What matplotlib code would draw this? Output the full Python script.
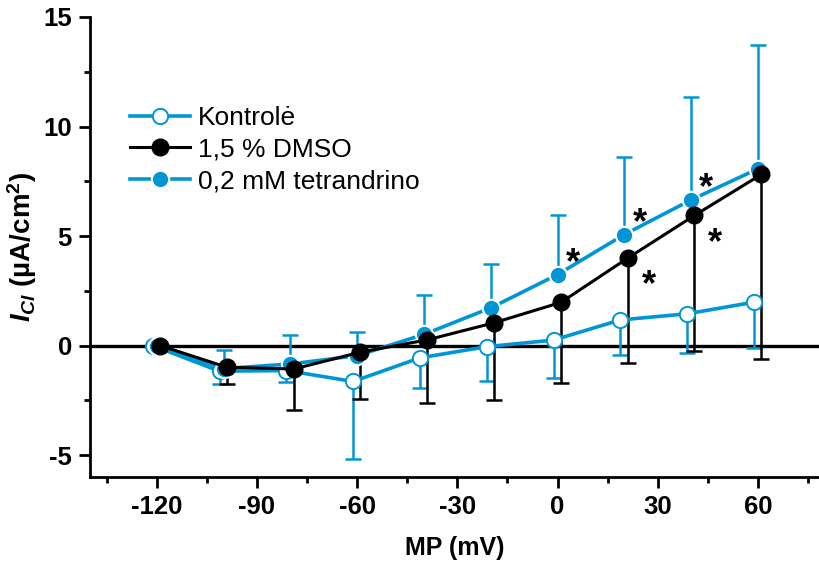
import numpy as np
import matplotlib
matplotlib.use("Agg")
import matplotlib.pyplot as plt
from matplotlib.ticker import MultipleLocator

plt.rcParams['font.family'] = ['Liberation Sans', 'DejaVu Sans']
plt.rcParams['mathtext.fontset'] = 'custom'
plt.rcParams['mathtext.it'] = 'Liberation Sans:italic:bold'
plt.rcParams['mathtext.rm'] = 'Liberation Sans:bold'
plt.rcParams['mathtext.bf'] = 'Liberation Sans:bold'
plt.rcParams['axes.unicode_minus'] = False

# membranos potencialas (mV)
mp = np.array([-120, -100, -80, -60, -40, -20, 0, 20, 40, 60])

kontrole = np.array([0, -1.17, -1.14, -1.64, -0.56, -0.05, 0.25, 1.17, 1.45, 1.98])
kontrole_err = np.array([0, 0.58, 0.53, 3.53, 1.36, 1.59, 1.75, 1.58, 1.80, 2.08])   # tik zemyn

dmso = np.array([0, -0.99, -1.07, -0.30, 0.26, 1.04, 1.97, 3.99, 5.94, 7.81])
dmso_err = np.array([0, 0.76, 1.87, 2.15, 2.86, 3.51, 3.69, 4.77, 6.17, 8.42])      # tik zemyn

tetra = np.array([0, -1.05, -0.84, -0.46, 0.51, 1.72, 3.24, 5.07, 6.65, 8.07])
tetra_err = np.array([0, 0.85, 1.30, 1.10, 1.79, 2.01, 2.71, 3.56, 4.72, 5.67])     # tik aukstyn

tetra_stars = [0, 20, 40]
dmso_stars = [20, 40]

labels = ['Kontrolė', '1,5 % DMSO', '0,2 mM tetrandrino']

blue = '#0096d6'

fig = plt.figure(figsize=(8.2, 5.68), dpi=100)
ax = fig.add_axes([90/820, 1-477/568, 730/820, (477-17)/568])

ax.axhline(0, color='k', lw=2.4, zorder=1)


def one_sided(x, y, err, color, up, zo):
    zeros = np.zeros_like(err)
    yerr = [zeros, err] if up else [err, zeros]
    _, caps, _ = ax.errorbar(x, y, yerr=yerr, fmt='none', ecolor=color,
                             elinewidth=1.8, capsize=6, capthick=1.8, zorder=zo)
    for c in caps:
        if np.allclose(c.get_ydata(), y):
            c.set_visible(False)


one_sided(mp - 1.2, kontrole, kontrole_err, blue, False, 2)
one_sided(mp, tetra, tetra_err, blue, True, 2)
one_sided(mp + 1, dmso, dmso_err, 'k', False, 3)

ax.plot(mp - 1.2, kontrole, '-o', color=blue, lw=2.6, ms=11,
        mfc='white', mec=blue, mew=1.4, zorder=4, label=labels[0])
ax.plot(mp, tetra, '-o', color=blue, lw=2.6, ms=12.5,
        mfc=blue, mec='white', mew=1.5, zorder=5, label=labels[2])
ax.plot(mp + 1, dmso, '-o', color='k', lw=2.2, ms=12,
        mfc='k', mec='k', mew=1, zorder=6, label=labels[1])

for xs in tetra_stars:
    i = list(mp).index(xs)
    ax.annotate('*', (mp[i], tetra[i]), xytext=(11, 1), textcoords='offset points',
                ha='center', va='baseline', fontsize=26, fontweight='bold', zorder=7)
for xs in dmso_stars:
    i = list(mp).index(xs)
    ax.annotate('*', (mp[i] + 1, dmso[i]), xytext=(15, -27), textcoords='offset points',
                ha='center', va='baseline', fontsize=26, fontweight='bold', zorder=7)

ax.set_xlim(-140, 78.6)
ax.set_ylim(-6, 15)
ax.xaxis.set_major_locator(MultipleLocator(30))
ax.set_xticks(np.arange(-135, 80, 30), minor=True)
ax.yaxis.set_major_locator(MultipleLocator(5))
ax.yaxis.set_minor_locator(MultipleLocator(2.5))

for s in ['top', 'right']:
    ax.spines[s].set_visible(False)
for s in ['left', 'bottom']:
    ax.spines[s].set_linewidth(2.0)
ax.tick_params(which='major', direction='out', length=8, width=2.0, labelsize=18.5, pad=5)
ax.tick_params(which='minor', direction='out', length=4.5, width=2.0)
for t in ax.get_xticklabels() + ax.get_yticklabels():
    t.set_fontweight('bold')

ax.set_xlabel('MP (mV)', fontsize=18, fontweight='bold', labelpad=12)
ax.set_ylabel(r'$I_{Cl}$ (µA/cm$^{2}$)', fontsize=20, fontweight='bold', labelpad=3)

h, l = ax.get_legend_handles_labels()
order = [0, 2, 1]
ax.legend([h[i] for i in order], [l[i] for i in order], loc='upper left',
          bbox_to_anchor=(0.04, 0.83), frameon=False, fontsize=19,
          handlelength=2.3, handletextpad=0.3, labelspacing=0.3, borderaxespad=0)

fig.savefig('out.png', dpi=100)
